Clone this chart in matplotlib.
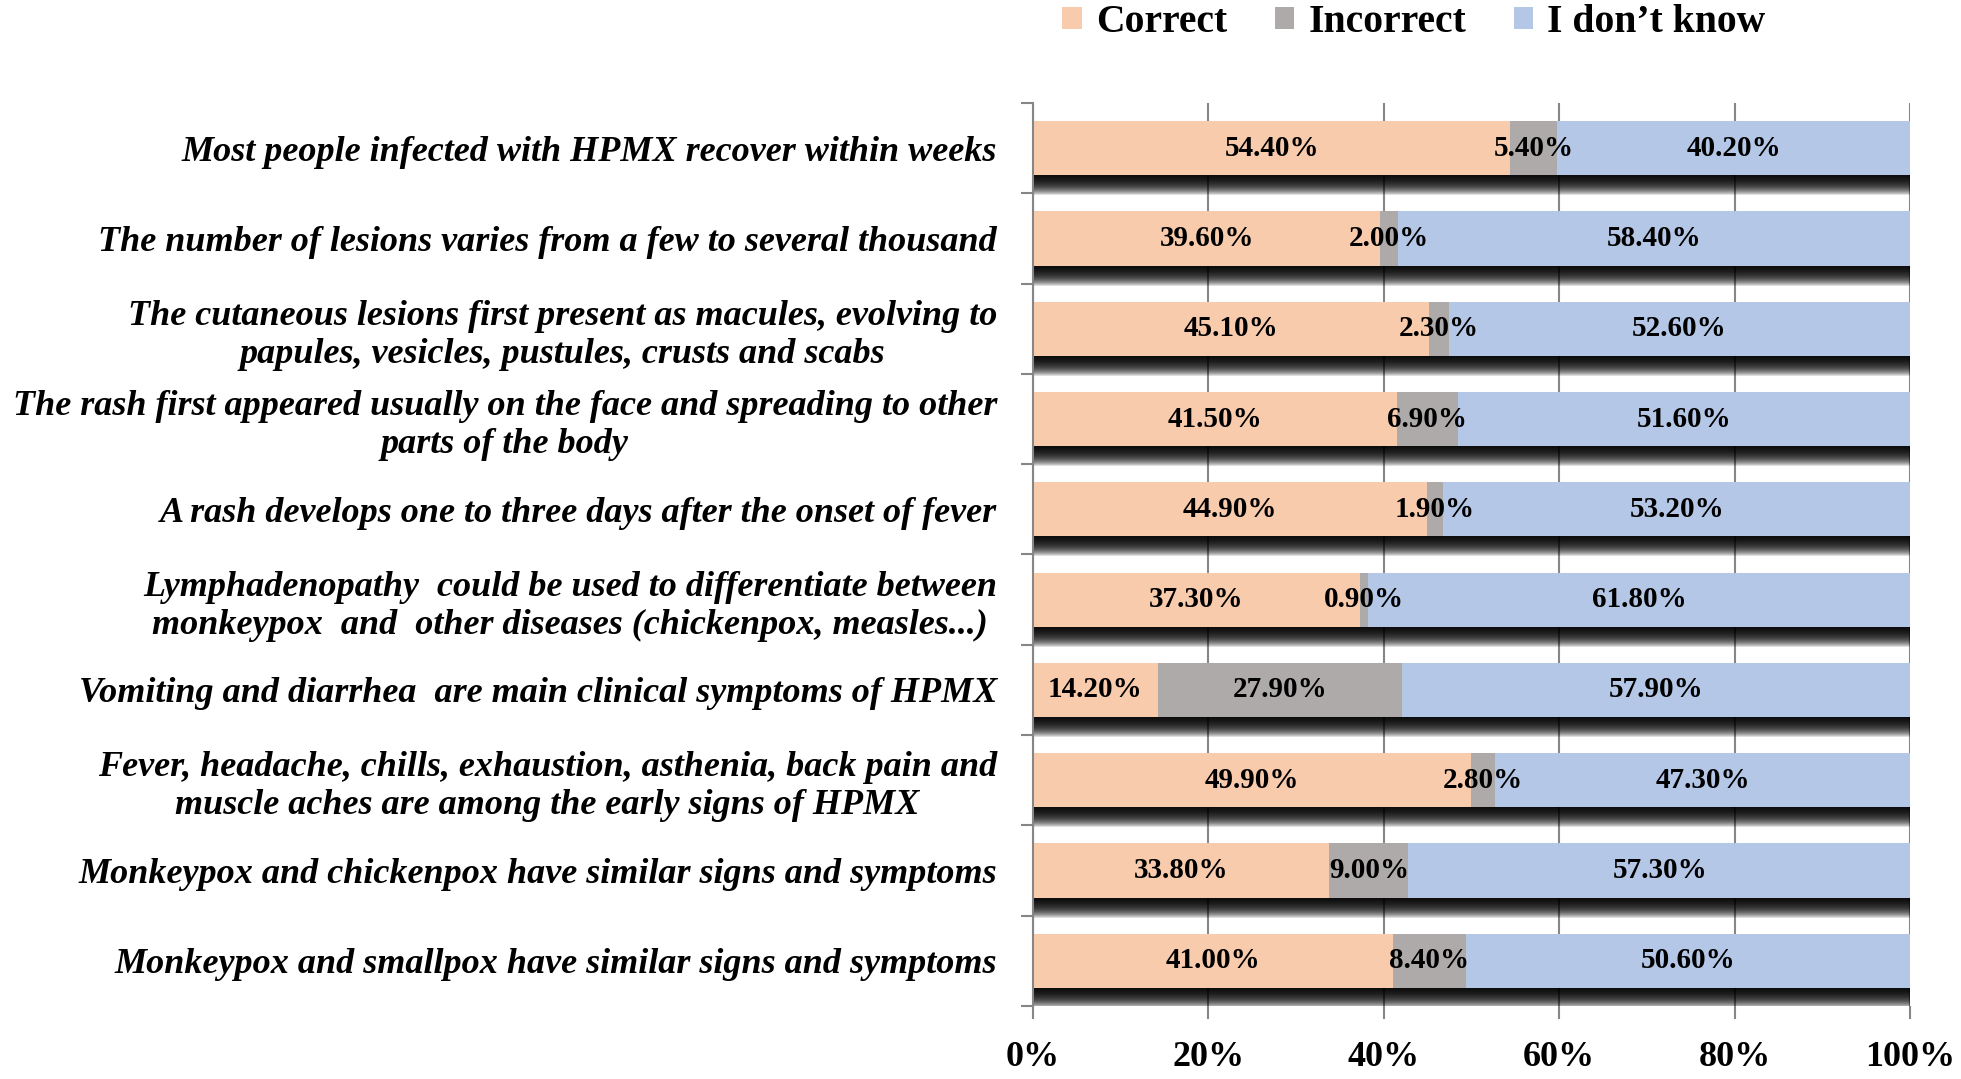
import numpy as np
import matplotlib.pyplot as plt
import matplotlib.patheffects as pe
from matplotlib.patches import Patch
from matplotlib.ticker import FixedLocator, PercentFormatter

statements = [
    "Most people infected with HPMX recover within weeks",
    "The number of lesions varies from a few to several thousand",
    "The cutaneous lesions first present as macules, evolving to\npapules, vesicles, pustules, crusts and scabs",
    "The rash first appeared usually on the face and spreading to other\nparts of the body",
    "A rash develops one to three days after the onset of fever",
    "Lymphadenopathy  could be used to differentiate between\nmonkeypox  and  other diseases (chickenpox, measles...)",
    "Vomiting and diarrhea  are main clinical symptoms of HPMX",
    "Fever, headache, chills, exhaustion, asthenia, back pain and\nmuscle aches are among the early signs of HPMX",
    "Monkeypox and chickenpox have similar signs and symptoms",
    "Monkeypox and smallpox have similar signs and symptoms",
]
correct = [54.4, 39.6, 45.1, 41.5, 44.9, 37.3, 14.2, 49.9, 33.8, 41.0]
incorrect = [5.4, 2.0, 2.3, 6.9, 1.9, 0.9, 27.9, 2.8, 9.0, 8.4]
dont_know = [40.2, 58.4, 52.6, 51.6, 53.2, 61.8, 57.9, 47.3, 57.3, 50.6]

series = ["Correct", "Incorrect", "I don\u2019t know"]
colors = ["#F8CBAD", "#AEAAAA", "#B4C7E7"]

SERIF = "Liberation Serif"
GRID = "#868686"


def shadow_effects():
    # many faint offset shadows stacked -> soft drop shadow under the bar
    effects = []
    for px in range(1, 21):
        effects.append(pe.SimplePatchShadow(offset=(0, -px * 0.72),
                                            shadow_rgbFace="black", alpha=0.13))
    effects.append(pe.Normal())
    return effects


def main():
    fig = plt.figure(figsize=(19.61, 10.79), dpi=100)
    ax = fig.add_axes([0.5268, 0.0677, 0.4472, 0.8368])

    y = np.arange(len(statements))
    left = np.zeros(len(statements))
    values = [np.array(correct), np.array(incorrect), np.array(dont_know)]

    for vals, name, col in zip(values, series, colors):
        bars = ax.barh(y, vals / 100, left=left, height=0.6, color=col,
                       label=name, zorder=2)
        for bar in bars:
            bar.set_path_effects(shadow_effects())
        for yi, l, v in zip(y, left, vals):
            ax.text(l + v / 200, yi, f"{v:.2f}%", ha="center", va="center",
                    fontsize=21, fontweight="bold", family=SERIF, zorder=4)
        left = left + vals / 100

    ax.set_xlim(0, 1)
    ax.set_ylim(len(statements) - 0.5, -0.5)

    ax.xaxis.set_major_locator(FixedLocator([0, 0.2, 0.4, 0.6, 0.8, 1.0]))
    ax.xaxis.set_major_formatter(PercentFormatter(1.0, decimals=0))
    ax.grid(axis="x", color=GRID, linewidth=1.5, zorder=0)
    ax.set_axisbelow(True)
    ax.tick_params(axis="x", length=9, width=1.5, color=GRID, pad=16,
                   labelsize=26)
    for lab in ax.get_xticklabels():
        lab.set_fontweight("bold")
        lab.set_family(SERIF)

    ax.set_yticks(y)
    ax.set_yticklabels(statements, fontsize=26, fontweight="bold",
                       fontstyle="italic", family=SERIF, ma="center")
    ax.yaxis.set_minor_locator(FixedLocator(np.arange(len(statements) + 1) - 0.5))
    ax.tick_params(axis="y", which="major", length=0, pad=26)
    ax.tick_params(axis="y", which="minor", length=9, width=1.5, color=GRID)

    for side in ["top", "right", "bottom"]:
        ax.spines[side].set_visible(False)
    ax.spines["left"].set_color(GRID)
    ax.spines["left"].set_linewidth(1.5)

    handles = [Patch(facecolor=c, edgecolor="none") for c in colors]
    fig.legend(handles, series, loc="center", bbox_to_anchor=(0.721, 0.979),
               ncol=3, frameon=False, handlelength=0.5, handleheight=0.5,
               handletextpad=0.35, columnspacing=1.2,
               prop={"family": SERIF, "weight": "bold", "size": 28.5})

    fig.savefig("out.png", dpi=100)


if __name__ == "__main__":
    main()
